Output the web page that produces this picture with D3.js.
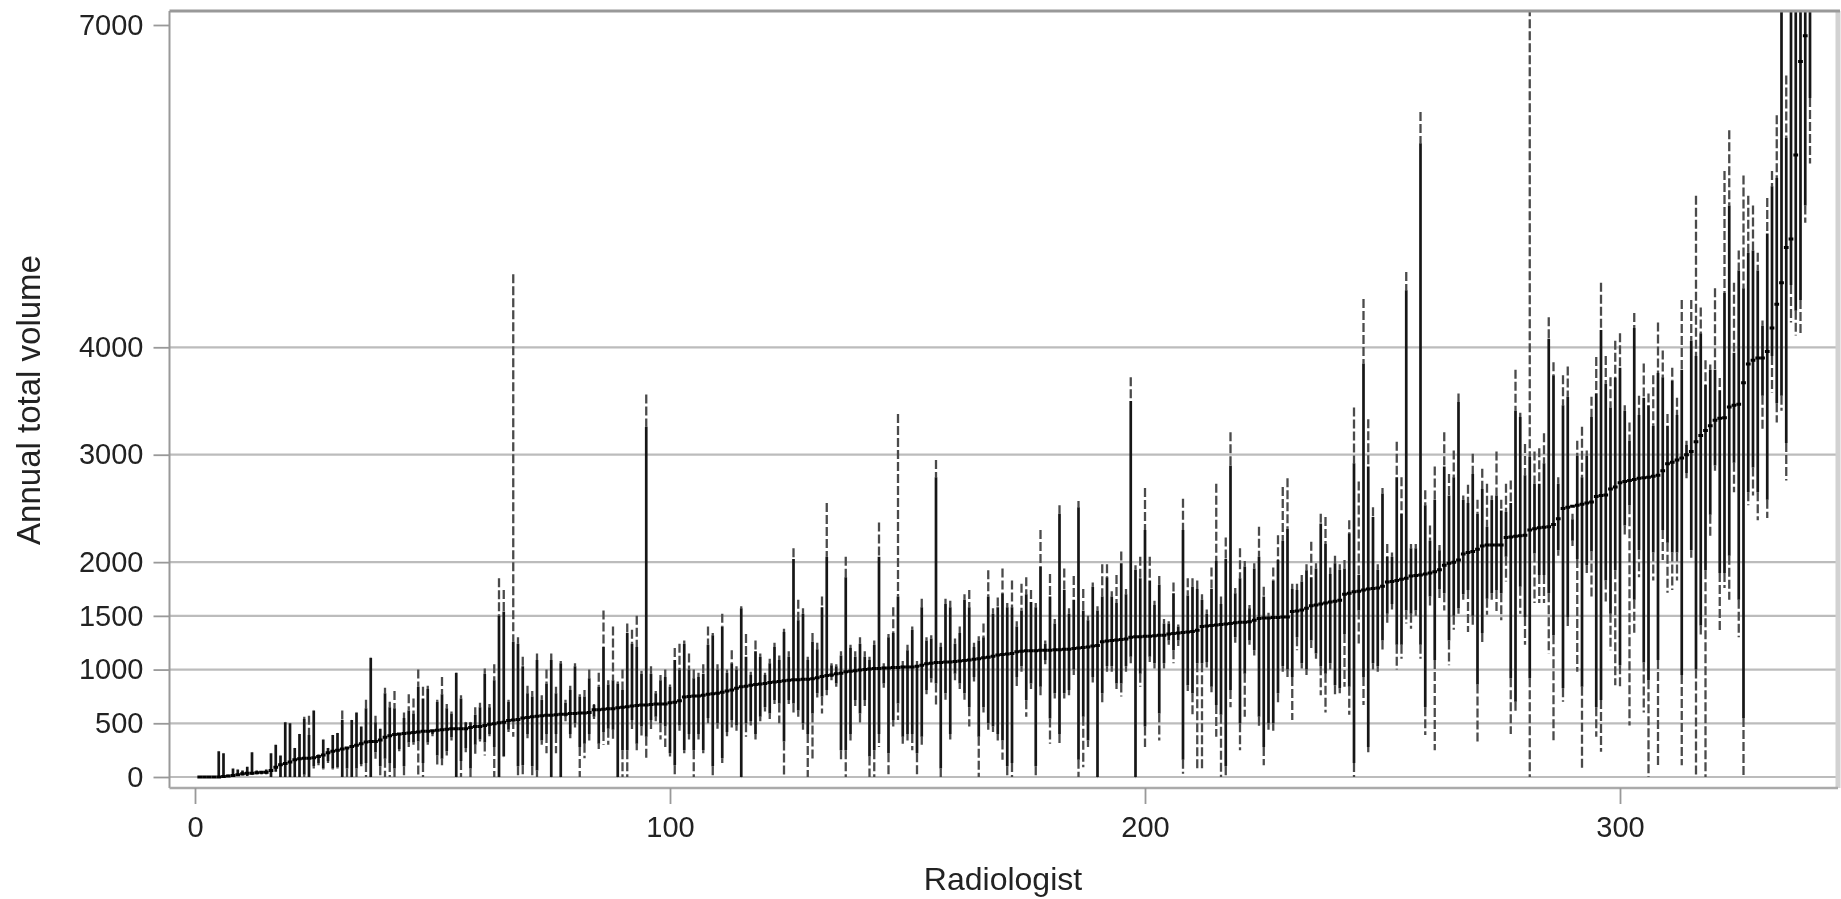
<!DOCTYPE html>
<html><head><meta charset="utf-8">
<script src="https://cdn.jsdelivr.net/npm/d3@7"></script>
<style>html,body{margin:0;padding:0;background:#fff;overflow:hidden}svg{display:block;filter:blur(0.7px)}</style>
</head><body><svg id="c" width="1841" height="899"></svg>
<script>
const xTicks=[0,100,200,300];
const yTicks=[0,500,1000,1500,2000,3000,4000,7000];
const gridValues=[0,500,1000,1500,2000,3000,4000];
const xTitle="Radiologist", yTitle="Annual total volume";
const medians=[
0,0,0,0,0,5,10,15,20,30,
35,35,40,45,45,60,90,115,125,140,
160,170,175,175,180,190,205,225,240,250,
260,270,285,295,310,325,330,330,345,370,
385,395,400,405,410,415,420,425,425,430,
435,440,445,450,450,450,450,460,470,470,
480,490,495,505,510,525,530,535,550,555,
560,565,570,575,575,580,585,585,590,590,
595,595,600,625,625,630,635,635,645,650,
655,660,665,670,670,675,680,680,680,690,
695,710,745,750,755,755,760,770,775,780,
790,800,810,825,840,845,855,860,865,870,
880,885,890,895,900,905,905,910,910,915,
925,935,945,950,960,965,980,985,990,995,
1000,1005,1010,1010,1015,1015,1020,1020,1025,1025,
1025,1030,1040,1055,1060,1065,1065,1070,1070,1075,
1080,1085,1090,1095,1100,1110,1115,1125,1135,1140,
1145,1150,1165,1170,1175,1175,1175,1180,1180,1180,
1185,1185,1190,1190,1195,1200,1205,1210,1220,1225,
1260,1265,1270,1275,1280,1285,1300,1305,1305,1310,
1310,1315,1320,1320,1330,1335,1340,1345,1350,1355,
1365,1400,1405,1410,1415,1420,1425,1430,1435,1440,
1440,1445,1460,1475,1480,1480,1485,1485,1490,1490,
1540,1545,1555,1570,1595,1600,1610,1620,1630,1635,
1645,1700,1710,1725,1730,1740,1750,1755,1760,1775,
1815,1820,1830,1840,1850,1870,1875,1880,1890,1900,
1910,1930,1970,1990,2000,2020,2075,2090,2100,2120,
2150,2160,2160,2160,2160,2230,2235,2240,2245,2250,
2300,2310,2320,2325,2330,2350,2405,2500,2510,2520,
2530,2540,2550,2560,2610,2620,2625,2680,2700,2740,
2750,2760,2770,2780,2785,2790,2800,2810,2850,2915,
2930,2950,2970,3000,3030,3120,3180,3225,3270,3320,
3340,3345,3445,3460,3470,3670,3845,3880,3900,3900,
3960,4180,4400,4600,4930,5007,5790,6660,6900,7400];
const solidHigh=[
0,0,0,0,240,220,20,80,70,60,
95,230,60,55,70,220,300,200,510,500,
270,400,540,390,620,210,350,270,390,410,
530,280,530,600,470,640,1110,510,450,780,
650,640,400,550,620,590,840,730,820,430,
700,770,640,590,970,730,510,510,580,650,
960,650,900,1500,1540,700,1260,1240,1030,780,
750,1090,720,870,1090,780,1060,690,810,1030,
750,750,920,670,840,1210,860,900,870,810,
1340,1240,1210,960,3260,960,780,900,930,840,
1090,1000,1240,1000,920,930,960,1230,1320,1000,
1400,970,1060,1000,1570,1120,950,1170,1120,950,
1060,1210,1090,1350,1120,2030,1460,1520,1090,1260,
1190,1580,2050,1040,1030,1130,1860,1200,1120,1240,
1120,1090,1230,2050,1030,1300,1340,1680,1040,1180,
1370,1040,1580,1270,1290,2790,1210,1610,1580,1240,
1340,1650,1580,1210,1270,1300,1680,1520,1580,1710,
1580,1580,1400,1550,1700,1630,1580,1960,1240,1680,
1430,2450,1740,1520,1650,2510,1550,1460,1770,1550,
1680,1860,1680,1620,1990,1700,3500,1930,1850,2300,
1830,1600,1790,1430,1430,1710,1400,2300,1690,1770,
1750,1650,1520,1750,2010,1610,2030,2900,1710,1850,
1960,1570,1940,2050,1680,1490,1830,2020,2200,2310,
1750,1740,1820,1925,1860,1940,2360,2170,1890,1990,
1930,1940,2270,2920,1880,3850,2890,2420,1930,2640,
2050,2050,2790,2450,4530,2130,2130,5900,2530,2200,
2580,2110,2890,2620,2790,3490,2580,2550,2820,2450,
2680,2330,2580,2620,2480,2470,2550,3410,3350,2810,
2980,2730,2730,2920,4080,3740,2730,3460,3540,2400,
2990,2790,2990,3350,3570,4160,3660,3440,3715,3810,
3410,3130,4180,3370,3530,3460,3270,3760,3720,3270,
3690,3370,3790,3090,4060,3920,4130,3650,3790,3790,
3600,4505,5320,3950,4715,4550,4880,4900,4715,4200,
5060,5500,5575,7500,5950,7500,7500,7500,7500,7500];
const dashHigh=[
0,0,0,0,240,220,20,80,70,60,
95,230,60,55,70,220,300,200,510,500,
270,400,560,570,620,210,350,270,390,410,
620,280,530,600,470,720,1110,570,450,830,
700,800,400,600,770,730,1000,840,850,430,
720,930,680,610,970,760,510,510,650,690,
1010,680,1050,1850,1740,720,4680,1300,1120,850,
800,1150,760,1000,1150,840,1080,720,850,1060,
770,810,1000,680,970,1550,900,1400,890,1000,
1430,1370,1500,990,3560,1030,800,950,1000,860,
1200,1240,1270,1150,1000,970,1050,1400,1340,1050,
1520,1000,1180,1030,1590,1330,980,1270,1150,970,
1100,1250,1130,1380,1170,2130,1650,1570,1120,1340,
1250,1680,2550,1060,1050,1170,2050,1230,1170,1300,
1170,1120,1270,2370,1060,1330,1580,3380,1080,1230,
1400,1080,1660,1300,1320,2950,1250,1660,1640,1290,
1400,1700,1740,1250,1310,1430,1925,1570,1670,1940,
1620,1830,1450,1800,1860,1740,1620,2300,1270,1890,
1470,2530,1940,1570,1870,2570,1750,1500,1810,1590,
1980,1980,1730,1880,2100,1750,3720,1970,2050,2690,
2050,1640,1870,1470,1450,1810,1420,2590,1850,1850,
1830,1700,1560,1950,2730,1680,2230,3210,1760,2130,
2010,1600,1990,2330,1770,1530,1950,2250,2700,2780,
1800,1800,1880,1980,2190,1990,2450,2420,1950,2060,
1980,2020,2390,3440,2750,4450,3330,2510,1980,2690,
2170,2090,3120,2790,4700,2170,2170,6190,2670,2340,
2890,2160,3210,2820,3040,3570,2620,2720,3010,2580,
2870,2730,2620,3030,2580,2730,2760,3790,3390,3100,
7500,3030,3060,3200,4280,3860,2790,3740,3820,2450,
3130,3260,3040,3540,3910,4600,3920,3720,4060,4130,
3460,3300,4320,3550,3850,3570,3740,4230,3970,3380,
3810,3530,4440,3130,4440,5410,4370,3880,3840,4550,
3715,5640,6020,4600,4900,5600,5410,5320,4880,4250,
5390,5640,6160,7500,6530,7500,7500,7500,7500,7500];
const solidLow=[
0,0,0,0,0,0,5,10,10,15,
10,20,25,25,25,0,50,0,0,0,
0,0,20,0,100,130,80,150,80,90,
0,80,0,80,120,130,0,230,100,170,
130,80,260,100,320,320,330,130,320,400,
200,170,240,370,0,150,270,80,300,350,
320,400,280,0,190,440,530,100,110,400,
100,60,340,400,0,400,0,560,400,500,
280,310,400,560,310,420,450,440,0,250,
250,530,310,470,375,530,560,500,470,220,
110,480,250,400,250,400,250,550,100,500,
175,420,530,480,0,500,520,400,560,650,
590,716,685,330,716,685,620,500,400,590,
780,750,810,930,870,250,250,400,716,590,
716,190,250,400,870,220,530,685,375,400,
400,220,375,810,918,870,80,780,400,960,
870,780,650,930,375,650,500,470,400,340,
100,130,930,1030,715,870,100,840,1090,545,
780,400,780,810,1000,160,560,340,930,0,
780,1030,1030,870,870,1030,1120,0,960,470,
1120,1060,590,1060,1270,1180,1270,160,855,780,
1060,1060,1070,840,670,580,100,810,1300,500,
960,1270,1180,560,280,500,500,780,1030,1000,
930,1300,1060,1000,1270,1150,1030,960,1060,855,
825,1330,840,130,1550,930,280,1060,1030,1270,
1520,1610,1230,1230,1550,1520,1550,1230,650,1680,
1090,1750,1710,1270,1500,1570,1700,1740,1500,860,
1340,1660,1710,1740,1710,2050,920,700,1770,1490,
920,2080,1880,1880,1710,1320,2110,825,1490,2200,
2030,840,1970,2100,650,716,1830,1520,1925,1040,
2340,2530,1650,2110,1065,900,2090,1090,2300,2180,
2090,2090,950,2830,2110,1000,1410,1925,2440,2900,
1900,1900,2060,2925,1650,550,2650,2880,2650,3550,
2580,3920,3480,3550,3110,4580,4340,4440,5320,6320];
const dashLow=[
0,0,0,0,0,0,5,10,10,15,
10,20,25,25,25,0,50,0,0,0,
0,0,0,0,80,110,70,130,70,80,
0,0,0,0,100,0,0,170,0,0,
0,0,240,0,280,300,0,0,300,380,
100,110,200,340,0,0,230,0,200,330,
200,380,0,0,190,420,375,0,0,360,
0,0,300,220,0,220,0,520,360,460,
0,175,340,540,260,300,300,350,0,0,
0,420,250,380,175,420,520,350,280,190,
0,430,220,350,0,350,220,500,0,450,
130,380,460,430,0,375,480,350,520,610,
540,680,500,0,680,590,560,440,0,160,
740,590,760,900,840,160,0,340,660,500,
660,0,0,280,830,0,470,530,310,340,
250,0,300,770,880,650,0,720,350,900,
820,720,470,890,0,600,440,420,340,160,
0,0,840,980,560,820,0,760,1050,310,
730,310,730,760,950,0,90,280,880,0,
670,980,980,820,750,980,1060,0,840,280,
1070,1010,340,1010,1230,1060,1220,30,800,560,
60,60,1020,790,375,0,0,650,1250,250,
560,1230,1130,470,110,440,430,670,980,930,
530,1180,1010,950,1200,1100,760,600,1000,760,
780,840,580,0,1240,670,230,1000,980,1180,
1410,1560,1000,1100,1430,1380,1500,1100,390,1570,
250,1650,1550,1040,1370,1520,1650,1350,1400,310,
1230,1510,1650,1520,1460,1820,400,610,1520,1230,
0,1620,1620,1620,1150,330,2060,700,1380,2150,
980,65,1900,1660,375,235,1630,1180,855,830,
2250,480,1320,1860,600,0,1830,90,2020,1715,
1740,1830,110,2780,2040,0,1300,0,2230,2850,
1340,1760,1650,2650,1300,0,2530,2620,2390,3230,
2410,3580,3300,3410,2760,4230,4110,4130,5160,5710];

const radiologists=medians.map((_,i)=>i+1);

const svg=d3.select("#c");
const frame={l:169.5,r:1838,t:11,b:788};
const x=d3.scaleLinear().domain([0,100]).range([195,670]);
const y=d3.scaleLinear().domain([0,7000]).range([777,25]);
const font="'Liberation Sans',Arial,sans-serif";

svg.append("defs").append("clipPath").attr("id","plot").append("rect")
  .attr("x",frame.l).attr("y",frame.t).attr("width",frame.r-frame.l).attr("height",frame.b-frame.t);

svg.append("g").selectAll("line").data(gridValues).join("line")
  .attr("x1",frame.l).attr("x2",frame.r).attr("y1",d=>y(d)).attr("y2",d=>y(d))
  .attr("stroke","#bcbcbc").attr("stroke-width",2.2);

const marks=svg.append("g").attr("clip-path","url(#plot)");
marks.append("g").selectAll("line").data(radiologists).join("line")
  .attr("x1",d=>x(d)).attr("x2",d=>x(d))
  .attr("y1",d=>y(dashHigh[d-1])).attr("y2",d=>y(solidHigh[d-1]))
  .attr("stroke","#4a4a4a").attr("stroke-width",2.3).attr("stroke-dasharray","9 3");
marks.append("g").selectAll("line").data(radiologists).join("line")
  .attr("x1",d=>x(d)).attr("x2",d=>x(d))
  .attr("y1",d=>y(solidLow[d-1])).attr("y2",d=>y(dashLow[d-1]))
  .attr("stroke","#4a4a4a").attr("stroke-width",2.3).attr("stroke-dasharray","9 3");
marks.append("g").selectAll("line").data(radiologists).join("line")
  .attr("x1",d=>x(d)).attr("x2",d=>x(d))
  .attr("y1",d=>y(solidHigh[d-1])).attr("y2",d=>y(solidLow[d-1]))
  .attr("stroke","#161616").attr("stroke-width",2.7);
marks.append("g").selectAll("line").data(radiologists).join("line")
  .attr("x1",d=>x(d-0.5)).attr("x2",d=>x(d+0.5))
  .attr("y1",d=>y(medians[d-1])).attr("y2",d=>y(medians[d-1]))
  .attr("stroke","#000").attr("stroke-width",3);

const f=svg.append("g");
f.append("line").attr("x1",1838).attr("x2",1838).attr("y1",frame.t).attr("y2",frame.b).attr("stroke","#d2d2d2").attr("stroke-width",5);
f.append("line").attr("x1",frame.l).attr("x2",1840).attr("y1",frame.t).attr("y2",frame.t).attr("stroke","#999").attr("stroke-width",3);
f.append("line").attr("x1",frame.l).attr("x2",frame.l).attr("y1",frame.t).attr("y2",frame.b).attr("stroke","#999").attr("stroke-width",2);
f.append("line").attr("x1",frame.l).attr("x2",frame.r).attr("y1",frame.b).attr("y2",frame.b).attr("stroke","#aaa").attr("stroke-width",2.5);

const yAxis=svg.append("g").attr("transform",`translate(${frame.l},0)`)
  .call(d3.axisLeft(y).tickValues(yTicks).tickSize(16).tickPadding(10).tickFormat(d3.format("d")));
const xAxis=svg.append("g").attr("transform",`translate(0,${frame.b})`)
  .call(d3.axisBottom(x).tickValues(xTicks).tickSize(16).tickPadding(12).tickFormat(d3.format("d")));
for(const a of [yAxis,xAxis]){
  a.select(".domain").remove();
  a.selectAll("line").attr("stroke","#999").attr("stroke-width",1.8);
  a.selectAll("text").attr("font-family",font).attr("font-size",29).attr("fill","#222");
}
svg.append("text").attr("x",1003).attr("y",890).attr("text-anchor","middle")
  .attr("font-family",font).attr("font-size",32).attr("fill","#222").text(xTitle);
svg.append("text").attr("transform","translate(40,400) rotate(-90)").attr("text-anchor","middle")
  .attr("font-family",font).attr("font-size",33).attr("fill","#222").text(yTitle);
</script></body></html>
